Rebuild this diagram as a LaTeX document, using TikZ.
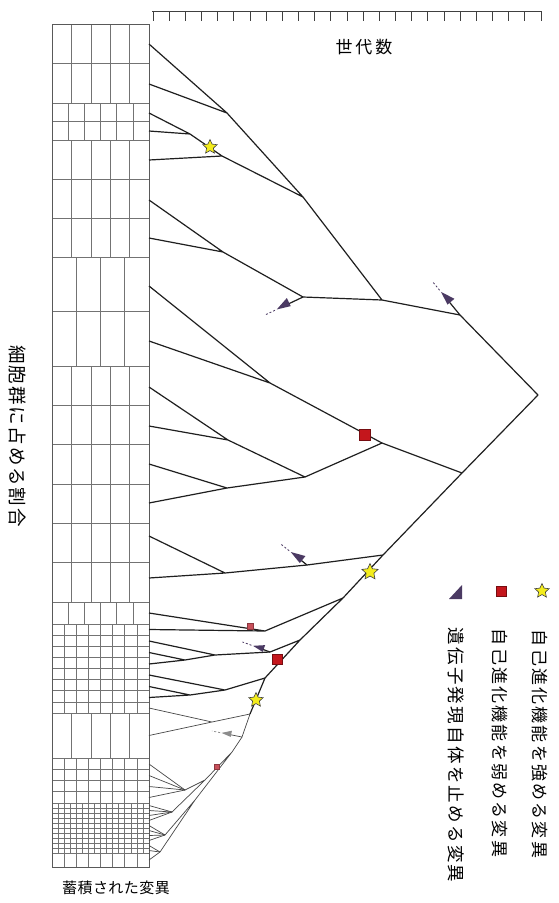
\documentclass[tikz,border=0pt]{standalone}
\usepackage{fontspec}
\newfontfamily\jpL[LetterSpace=13]{Noto Sans CJK JP}
\newfontfamily\jpR[LetterSpace=10]{Noto Sans CJK JP}
\newfontfamily\jpG[LetterSpace=17]{Noto Sans CJK JP}
\newfontfamily\jpB[LetterSpace=3]{Noto Sans CJK JP}
\usetikzlibrary{shapes.geometric,calc}
\definecolor{tricol}{HTML}{4B3A63}
\definecolor{stary}{HTML}{F3EC1C}
\definecolor{sqr}{HTML}{C4161C}
\definecolor{sqs}{HTML}{C8505A}
\tikzset{
  br/.style={line width=1.2pt, draw=black!88},
  thinbr/.style={line width=0.7pt, draw=black!72},
  gridln/.style={line width=0.55pt, draw=black!55},
  rul/.style={line width=0.9pt, draw=black!75},
  starm/.style={star, star points=5, star point ratio=2.1, minimum size=15pt, inner sep=0pt, fill=stary, draw=black!75, line width=0.6pt},
  sqm/.style={rectangle, minimum size=10pt, inner sep=0pt, fill=sqr, draw=sqr!60!black, line width=0.5pt},
  sqsm/.style={rectangle, minimum size=6pt, inner sep=0pt, fill=sqs, draw=sqs!70!black, line width=0.4pt},
}
\newcommand\cellblock[4]{%
  \foreach \i in {0,...,#3}{\draw[gridln] (52,{#1+(#2-#1)*\i/#3}) -- (149,{#1+(#2-#1)*\i/#3});}
  \foreach \j in {0,...,#4}{\draw[gridln] ({52+97*\j/#4},#1) -- ({52+97*\j/#4},#2);}
}
\newcommand\deadtri[5][tricol]{%
  \draw[#4] (#2) -- (#3);
  \coordinate (tbk) at ($(#3)!#5*6pt!(#2)$);
  \fill[#1] ($(#3)!-#5*8pt!(#2)$) -- ($(tbk)!#5*6pt!90:(#2)$) -- ($(tbk)!#5*3pt!-90:(#2)$) -- cycle;
  \draw[#1, line width=0.8pt, dash pattern=on 2pt off 2pt] ($(#3)!-#5*10pt!(#2)$) -- ($(#3)!-#5*22pt!(#2)$);
}
\begin{document}
\begin{tikzpicture}[x=1pt,y=-1pt]
\useasboundingbox (0,0) rectangle (558,903);
\fill[white] (0,0) rectangle (558,903);

% ruler
\draw[rul] (152,11) -- (541,11);
\foreach \i in {0,...,24}{\draw[rul] ({153+16.17*\i},11) -- ({153+16.17*\i},21);}
\node[font={\jpG\fontsize{17pt}{17pt}\selectfont}] (gen) at (364,47) {世代数};

% cell block
\cellblock{24}{103}{2}{5}
\cellblock{103}{140}{2}{6}
\cellblock{140}{257}{3}{5}
\cellblock{257}{366}{2}{4}
\cellblock{366}{602}{6}{5}
\cellblock{602}{624}{1}{6}
\cellblock{624}{713}{8}{8}
\cellblock{713}{758}{1}{5}
\cellblock{758}{803}{4}{8}
\cellblock{803}{853}{10}{16}
\cellblock{853}{867}{1}{8}
\draw[line width=0.7pt, draw=black!65] (52,24) rectangle (149,867);

\node[font={\jpB\fontsize{15pt}{15pt}\selectfont}] (acc) at (116,888) {蓄積された変異};
\node[rotate=-90, font={\jpR\fontsize{18.5pt}{18.5pt}\selectfont}] (ratio) at (18,436) {細胞群に占める割合};

% leaves
\foreach \n/\y in {u1/44,u2/84,u3/113,u4/131,u5/160,u6/200,u7/238,u8/286,u9/341,u10/387,u11/426,u12/464,u13/503,u14/536,u15/578,
  w1/613,w2/629.5,w3/641,w4/652.5,w5/664,w6/675,w7/686.5,w8/697.5,w9/708,w10/735.5,w11/764,w12/775.5,w13/786.5,w14/797.5,
  w15/805.5,w16/810.5,w17/815.5,w18/820.5,w19/825.5,w20/830.5,w21/835.5,w22/840.5,w23/845.5,w24/850.5,w25/860}
  {\coordinate (\n) at (149,\y);}

% internal nodes
\coordinate (root) at (538,395);
\coordinate (I) at (460,315);
\coordinate (E) at (382,300);
\coordinate (B) at (303,197);
\coordinate (A) at (227,113);
\coordinate (D) at (222,156);
\coordinate (C) at (190,134);
\coordinate (G) at (303,297);
\coordinate (F) at (223,252);
\coordinate (N) at (462,473);
\coordinate (M) at (382,443);
\coordinate (H) at (270,383);
\coordinate (K) at (305,477);
\coordinate (J) at (228,440);
\coordinate (L) at (227,488);
\coordinate (O) at (383,555);
\coordinate (P) at (307,565);
\coordinate (Q) at (225,573);
\coordinate (R) at (343,598);
\coordinate (Z) at (265,631);
\coordinate (S) at (300,640);
\coordinate (B1) at (270,652);
\coordinate (B2) at (215,655);
\coordinate (B3) at (185,660);
\coordinate (U) at (265,678);
\coordinate (B4) at (225,690);
\coordinate (B5) at (190,695);
\coordinate (V) at (250,714);
\coordinate (C1) at (212,722);
\coordinate (C2) at (242,737);
\coordinate (C3) at (232,752);
\coordinate (G1) at (205,780);
\coordinate (G2) at (195,800);
\coordinate (F4) at (185,790);
\coordinate (F1) at (172,812);
\coordinate (F2) at (165,835);
\coordinate (F3) at (160,852);
% dead-branch ends
\coordinate (t1) at (446,298);
\coordinate (t2) at (284,306);
\coordinate (t3) at (297,557);
\coordinate (t4) at (259,648);
\coordinate (t5) at (227,734);

% upper tree
\draw[br] (root) -- (I) (root) -- (N);
\draw[br] (I) -- (E) (E) -- (B) (E) -- (G);
\draw[br] (B) -- (A) (B) -- (D) (A) -- (u1) (A) -- (u2);
\draw[br] (D) -- (C) (D) -- (u5) (C) -- (u3) (C) -- (u4);
\draw[br] (G) -- (F) (F) -- (u6) (F) -- (u7);
\deadtri{I}{t1}{br}{1}
\deadtri{G}{t2}{br}{1}
% middle
\draw[br] (N) -- (M) (N) -- (O);
\draw[br] (M) -- (H) (M) -- (K) (H) -- (u8) (H) -- (u9);
\draw[br] (K) -- (J) (K) -- (L) (J) -- (u10) (J) -- (u11) (L) -- (u12) (L) -- (u13);
\draw[br] (O) -- (P) (O) -- (R) (P) -- (Q) (Q) -- (u14) (Q) -- (u15);
\deadtri{P}{t3}{br}{1}
% lower
\draw[br] (R) -- (Z) (R) -- (S) (Z) -- (w1) (Z) -- (w2);
\draw[br] (S) -- (U) (S) -- (B1) (B1) -- (B2) (B2) -- (w3) (B2) -- (B3) (B3) -- (w4) (B3) -- (w5);
\deadtri{B1}{t4}{br}{0.8}
\draw[br] (U) -- (V) (U) -- (B4) (B4) -- (w6) (B4) -- (B5) (B5) -- (w7) (B5) -- (w8);
\draw[thinbr] (V) -- (C1) (V) -- (C2) (C1) -- (w9) (C1) -- (w10);
\draw[thinbr] (C2) -- (C3) (C3) -- (G1) (C3) -- (G2) (G1) -- (F4) (G1) -- (F1) (G2) -- (F2) (G2) -- (F3);
\deadtri[black!45]{C2}{t5}{thinbr}{0.7}
\foreach \w in {w11,w12,w13,w14}{\draw[thinbr] (F4) -- (\w);}
\foreach \w in {w15,w16,w17,w18}{\draw[thinbr] (F1) -- (\w);}
\foreach \w in {w19,w20,w21,w22}{\draw[thinbr] (F2) -- (\w);}
\foreach \w in {w23,w24,w25}{\draw[thinbr] (F3) -- (\w);}

% markers
\node[starm] (s1) at (210,147) {};
\node[starm, minimum size=17pt] (s2) at (370,572) {};
\node[starm] (s3) at (256,700) {};
\node[sqm, minimum size=11pt] (q1) at (365,435) {};
\node[sqm] (q2) at (277,659) {};
\node[sqsm] (q3) at (250,626) {};
\node[sqsm, minimum size=5pt] (q4) at (217,767) {};

% legend
\node[starm] (ls) at (542,591) {};
\node[sqm] (lq) at (501,591) {};
\fill[tricol] (449,599) -- (462,585) -- (462,599) -- cycle;
\node[inner sep=0pt] (lt) at (456,593) {};
\node[rotate=-90, font={\jpL\fontsize{17pt}{17pt}\selectfont}] (txs) at (540,744) {自己進化機能を強める変異};
\node[rotate=-90, font={\jpL\fontsize{17pt}{17pt}\selectfont}] (txq) at (500,743) {自己進化機能を弱める変異};
\node[rotate=-90, font={\jpL\fontsize{17.5pt}{17.5pt}\selectfont}] (txt) at (456,755) {遺伝子発現自体を止める変異};
\end{tikzpicture}
\end{document}
